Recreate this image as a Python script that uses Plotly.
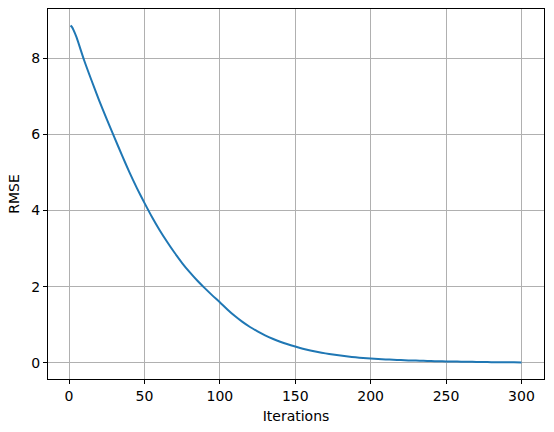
import plotly.graph_objects as go

# RMSE per training iteration
iterations = [1, 2, 3, 5, 10, 15, 20, 25, 30, 35, 40, 45, 50, 55, 60, 65, 70, 75,
              80, 85, 90, 95, 100, 105, 110, 115, 120, 125, 130, 135, 140, 145, 150,
              155, 160, 165, 170, 175, 180, 185, 190, 195, 200, 205, 210, 215, 220,
              225, 230, 235, 240, 245, 250, 255, 260, 265, 270, 275, 280, 285, 290,
              295, 300]
rmse = [8.86, 8.82, 8.74, 8.55, 7.95, 7.41, 6.89, 6.40, 5.93, 5.46, 5.01, 4.59,
        4.20, 3.83, 3.49, 3.18, 2.89, 2.62, 2.38, 2.16, 1.96, 1.77, 1.59, 1.40,
        1.225, 1.072, 0.938, 0.822, 0.720, 0.630, 0.552, 0.484, 0.424, 0.369,
        0.322, 0.281, 0.245, 0.214, 0.187, 0.163, 0.142, 0.124, 0.108, 0.096,
        0.086, 0.077, 0.069, 0.061, 0.055, 0.049, 0.044, 0.039, 0.035, 0.031,
        0.027, 0.024, 0.021, 0.018, 0.015, 0.013, 0.011, 0.009, 0.008]

fig = go.Figure()
fig.add_trace(go.Scatter(x=iterations, y=rmse, mode="lines",
                         line=dict(color="#1f77b4", width=2, shape="spline", smoothing=0.6)))

axis_style = dict(showline=True, mirror=True, linecolor="black", linewidth=1,
                  ticks="outside", ticklen=4, tickcolor="black",
                  showgrid=True, gridcolor="#b0b0b0", gridwidth=1,
                  zeroline=False, automargin=False, tickfont=dict(size=14, color="black"))

fig.update_xaxes(axis_style, range=[-13.95, 314.95], tickvals=[0, 50, 100, 150, 200, 250, 300],
                 title=dict(text="Iterations", font=dict(size=14, color="black"), standoff=8))
fig.update_yaxes(axis_style, range=[-0.428, 9.296], tickvals=[0, 2, 4, 6, 8],
                 title=dict(text="RMSE", font=dict(size=14, color="black"), standoff=8))

fig.update_layout(width=554, height=432, margin=dict(l=48, r=10, t=9, b=53),
                  plot_bgcolor="white", paper_bgcolor="white", showlegend=False,
                  font=dict(family="DejaVu Sans"))

# page has a default 8px body margin; drop it so the figure sits at the window corner
fig.write_html("out.html", config={"displayModeBar": False},
               post_script="document.body.style.margin='0';")
